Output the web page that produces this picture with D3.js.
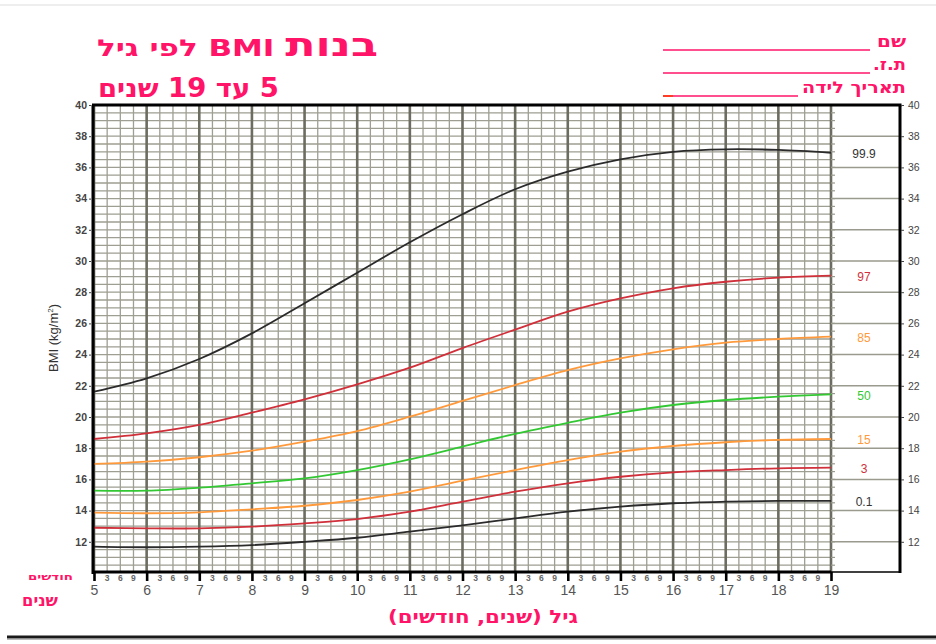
<!DOCTYPE html>
<html lang="he">
<head>
<meta charset="UTF-8">
<title>BMI בנות</title>
<script src="https://d3js.org/d3.v7.min.js"></script>
<style>
  body { margin: 0; background: #fff; }
  svg { font-family: "Liberation Sans", Arial, "DejaVu Sans", sans-serif; }
</style>
</head>
<body>
<div id="chart"></div>
<script>
// ages (years) and percentile curves
const ages = [5, 6, 7, 8, 9, 10, 11, 12, 13, 14, 15, 16, 17, 18, 19];
const p999 = [21.62, 22.48, 23.72, 25.36, 27.29, 29.25, 31.2, 33.0, 34.6, 35.73, 36.52, 37.0, 37.16, 37.12, 36.94];
const p97  = [18.59, 18.95, 19.49, 20.28, 21.13, 22.09, 23.16, 24.42, 25.6, 26.75, 27.6, 28.25, 28.67, 28.93, 29.06];
const p85  = [16.99, 17.14, 17.42, 17.84, 18.42, 19.1, 20.02, 21.03, 22.05, 23.01, 23.76, 24.34, 24.77, 25.0, 25.15];
const p50  = [15.28, 15.28, 15.47, 15.75, 16.07, 16.6, 17.29, 18.1, 18.92, 19.63, 20.28, 20.77, 21.09, 21.3, 21.45];
const p15  = [13.87, 13.83, 13.89, 14.08, 14.31, 14.68, 15.21, 15.92, 16.6, 17.24, 17.78, 18.14, 18.38, 18.53, 18.59];
const p3   = [12.9, 12.86, 12.86, 12.97, 13.18, 13.46, 13.93, 14.57, 15.21, 15.75, 16.17, 16.45, 16.6, 16.71, 16.75];
const p01  = [11.69, 11.65, 11.69, 11.79, 12.0, 12.26, 12.65, 13.05, 13.5, 13.93, 14.25, 14.47, 14.57, 14.62, 14.62];

const seriesNames = ['99.9', '97', '85', '50', '15', '3', '0.1'];
const seriesValues = [p999, p97, p85, p50, p15, p3, p01];
const seriesColors = ['#2b2b2b', '#d0303a', '#ff9a3c', '#33c833', '#ff9a3c', '#d0303a', '#2b2b2b'];

const yTicks = [12, 14, 16, 18, 20, 22, 24, 26, 28, 30, 32, 34, 36, 38, 40];
const monthLabels = ['3', '6', '9'];

const pink = '#ff1468';
const heb = '"DejaVu Sans", "Liberation Sans", sans-serif';
const W = 936, H = 644;

const svg = d3.select('#chart').append('svg')
  .attr('width', W).attr('height', H);

const x = d3.scaleLinear().domain([5, 19]).range([94, 831]);
const y = d3.scaleLinear().domain([10, 40]).range([573, 105]);
const boxRight = 900;

// faint top edge
svg.append('line').attr('x1', 0).attr('x2', W).attr('y1', 5).attr('y2', 5)
  .attr('stroke', '#eeeeee').attr('stroke-width', 2);

// grid: horizontal every 0.5
const grid = svg.append('g');
grid.selectAll('.h').data(d3.range(10.5, 40, 0.5)).enter().append('line')
  .attr('x1', x(5)).attr('x2', x(19))
  .attr('y1', d => y(d)).attr('y2', d => y(d))
  .attr('stroke', '#9e9e92').attr('stroke-width', 1.3);

// vertical every 3 months
const quarters = d3.range(5, 19.001, 0.25);
const qs = quarters.filter(d => d % 1 !== 0);
grid.selectAll('.v').data(qs).enter().append('line')
  .attr('x1', d => x(d)).attr('x2', d => x(d))
  .attr('y1', y(40)).attr('y2', y(10))
  .attr('stroke', '#9e9e92').attr('stroke-width', 1.3);

grid.selectAll('.yr').data(ages).enter().append('line')
  .attr('x1', d => x(d)).attr('x2', d => x(d))
  .attr('y1', y(40)).attr('y2', y(10))
  .attr('stroke', '#6c6c60').attr('stroke-width', 2.6);

// right box lines
grid.selectAll('.rb').data(yTicks.filter(d => d < 40)).enter().append('line')
  .attr('x1', x(19)).attr('x2', boxRight)
  .attr('y1', d => y(d)).attr('y2', d => y(d))
  .attr('stroke', '#9a9a8e').attr('stroke-width', 1.5);
grid.selectAll('.rt').data(d3.range(10.5, 40, 0.5)).enter().append('line')
  .attr('x1', x(19)).attr('x2', x(19) + 4)
  .attr('y1', d => y(d)).attr('y2', d => y(d))
  .attr('stroke', '#9a9a8e').attr('stroke-width', 1.2);

// curves
const line = d3.line()
  .x((d, i) => x(ages[i]))
  .y(d => y(d))
  .curve(d3.curveCatmullRom.alpha(0.5));

svg.append('g').selectAll('path').data(seriesValues).enter().append('path')
  .attr('d', line)
  .attr('fill', 'none')
  .attr('stroke', (d, i) => seriesColors[i])
  .attr('stroke-width', 1.8);

// percentile labels in the right box
svg.append('g').selectAll('text').data(seriesValues).enter().append('text')
  .attr('x', 864)
  .attr('y', d => y(d[d.length - 1]) + 1)
  .attr('dy', '0.35em')
  .attr('text-anchor', 'middle')
  .attr('font-size', 12)
  .attr('fill', (d, i) => i === 0 || i === 6 ? '#333' : seriesColors[i])
  .text((d, i) => seriesNames[i]);

// frame
const frame = svg.append('g').attr('stroke', '#000');
frame.append('line').attr('x1', 92).attr('x2', boxRight + 1.5).attr('y1', y(40)).attr('y2', y(40)).attr('stroke-width', 3);
frame.append('line').attr('x1', 93).attr('x2', 93).attr('y1', y(40)).attr('y2', y(10) + 1).attr('stroke-width', 3);
frame.append('line').attr('x1', boxRight).attr('x2', boxRight).attr('y1', y(40)).attr('y2', y(10)).attr('stroke-width', 3);
frame.append('line').attr('x1', 92).attr('x2', x(19)).attr('y1', y(10) - 1).attr('y2', y(10) - 1).attr('stroke-width', 3);
frame.append('line').attr('x1', x(19)).attr('x2', boxRight).attr('y1', y(10) - 1).attr('y2', y(10) - 1).attr('stroke-width', 1.5);

// y axes
const yLeft = svg.append('g').attr('transform', 'translate(91,0)')
  .call(d3.axisLeft(y).tickValues(yTicks).tickSize(2).tickPadding(2));
yLeft.select('.domain').remove();
yLeft.selectAll('text').attr('font-size', 10.5).attr('font-weight', 'bold').attr('fill', '#444')
  .attr('font-family', '"Liberation Sans", Arial, sans-serif');
yLeft.selectAll('line').attr('stroke', '#444');

const yRight = svg.append('g').attr('transform', 'translate(' + (boxRight + 1) + ',0)')
  .call(d3.axisRight(y).tickValues(yTicks).tickSize(3).tickPadding(4));
yRight.select('.domain').remove();
yRight.selectAll('text').attr('font-size', 10.5).attr('fill', '#444')
  .attr('font-family', '"Liberation Sans", Arial, sans-serif');
yRight.selectAll('line').attr('stroke', '#444');

// x axis: years
const xAxis = svg.append('g').attr('transform', 'translate(0,' + (y(10) - 1) + ')')
  .call(d3.axisBottom(x).tickValues(ages).tickSize(9).tickPadding(4).tickFormat(d3.format('d')));
xAxis.select('.domain').remove();
xAxis.selectAll('line').attr('stroke', '#000').attr('stroke-width', 2.6);
xAxis.selectAll('text').attr('font-size', 14).attr('fill', '#555')
  .attr('font-family', '"Liberation Sans", Arial, sans-serif');

// x axis: months
svg.append('g').selectAll('text').data(qs).enter().append('text')
  .attr('x', d => x(d))
  .attr('y', y(10) + 8)
  .attr('text-anchor', 'middle')
  .attr('font-size', 8.5)
  .attr('font-weight', 'bold')
  .attr('fill', '#666')
  .text(d => monthLabels[Math.round((d % 1) * 4) - 1]);

// y title
svg.append('text')
  .attr('transform', 'translate(58,338) rotate(-90)')
  .attr('text-anchor', 'middle')
  .attr('font-size', 13)
  .attr('fill', '#333')
  .html('BMI (kg/m<tspan font-size="8" dy="-5">2</tspan><tspan dy="5">)</tspan>');

// titles (rtl)
const rtl = (sel) => sel.attr('direction', 'rtl').attr('text-anchor', 'start')
  .attr('font-family', heb).attr('font-weight', 'bold').attr('fill', pink);

const t1 = svg.append('text').attr('x', 378).attr('y', 56).call(rtl)
  .attr('textLength', 281).attr('lengthAdjust', 'spacingAndGlyphs');
t1.append('tspan').attr('font-size', 33).text('בנות');
t1.append('tspan').attr('font-size', 23).text(' BMI לפי גיל');

svg.append('text').attr('x', 279).attr('y', 97).call(rtl)
  .attr('font-size', 26).attr('textLength', 181).attr('lengthAdjust', 'spacingAndGlyphs')
  .text('5 עד 19 שנים');

// form fields top right
const fields = [
  { label: 'שם', y: 47, x1: 663, x2: 870, w: 29 },
  { label: 'ת.ז.', y: 70, x1: 663, x2: 870, w: 33 },
  { label: 'תאריך לידה', y: 93, x1: 663, x2: 798, w: 104 }
];
fields.forEach(f => {
  svg.append('text').attr('x', 906).attr('y', f.y).call(rtl)
    .attr('font-size', 16).attr('textLength', f.w).attr('lengthAdjust', 'spacingAndGlyphs')
    .text(f.label);
  svg.append('line').attr('x1', f.x1).attr('x2', f.x2)
    .attr('y1', f.y + 3).attr('y2', f.y + 3)
    .attr('stroke', pink).attr('stroke-width', 1.6);
});
svg.append('line').attr('x1', 663).attr('x2', 673).attr('y1', 96).attr('y2', 96)
  .attr('stroke', '#ff3a1a').attr('stroke-width', 1.8);

// bottom-left unit labels and axis title
svg.append('text').attr('x', 73).attr('y', 580).call(rtl)
  .attr('font-size', 10).attr('textLength', 45).attr('lengthAdjust', 'spacingAndGlyphs')
  .text('חודשים');
svg.append('text').attr('x', 58).attr('y', 606).call(rtl)
  .attr('font-size', 16).attr('textLength', 36).attr('lengthAdjust', 'spacingAndGlyphs')
  .text('שנים');
svg.append('text').attr('x', 578).attr('y', 623).call(rtl)
  .attr('font-size', 18).attr('textLength', 190).attr('lengthAdjust', 'spacingAndGlyphs')
  .text('גיל (שנים, חודשים)');

// bottom rule
svg.append('line').attr('x1', 7).attr('x2', W).attr('y1', 637).attr('y2', 637)
  .attr('stroke', '#1a1a1a').attr('stroke-width', 3);
svg.append('line').attr('x1', 7).attr('x2', W).attr('y1', 639.5).attr('y2', 639.5)
  .attr('stroke', '#bbbbbb').attr('stroke-width', 1);
</script>
</body>
</html>
